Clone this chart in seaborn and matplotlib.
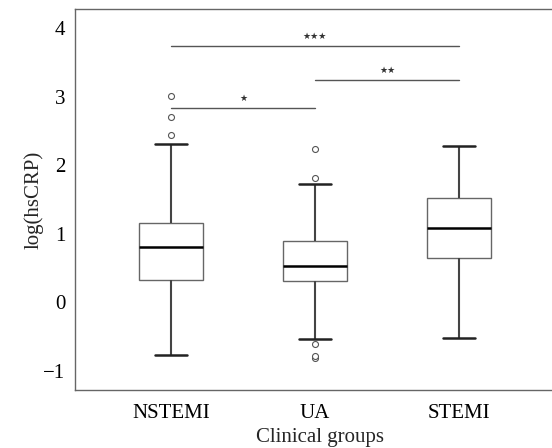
import numpy as np
import pandas as pd
import matplotlib
matplotlib.use("Agg")
import matplotlib.pyplot as plt
import seaborn as sns

groups = ["NSTEMI", "UA", "STEMI"]
nstemi_vals = [-0.77, -0.30, 0.00, 0.15, 0.25, 0.32, 0.45, 0.55, 0.65, 0.72, 0.80,
               0.88, 0.95, 1.02, 1.10, 1.16, 1.60, 2.31, 2.44, 2.70, 3.01]
ua_vals = [-0.81, -0.79, -0.61, -0.53, 0.10, 0.31, 0.38, 0.42, 0.46, 0.50, 0.53,
           0.60, 0.68, 0.76, 0.84, 0.90, 1.20, 1.45, 1.72, 1.82, 2.23]
stemi_vals = [-0.52, -0.20, 0.10, 0.35, 0.50, 0.64, 0.75, 0.85, 0.95, 1.02, 1.09,
              1.18, 1.28, 1.38, 1.46, 1.52, 1.70, 1.85, 2.00, 2.15, 2.285]
yticks = [-1, 0, 1, 2, 3, 4]
ytick_labels = ["\u22121", "0", "1", "2", "3", "4"]

sig_pairs = [(0, 1), (1, 2), (0, 2)]
sig_heights = [2.83, 3.24, 3.74]
sig_labels = ["\u2605", "\u2605\u2605", "\u2605\u2605\u2605"]

df = pd.DataFrame({
    "group": ["NSTEMI"] * len(nstemi_vals) + ["UA"] * len(ua_vals) + ["STEMI"] * len(stemi_vals),
    "value": nstemi_vals + ua_vals + stemi_vals,
})

sns.set_style("white")
plt.rcParams["font.family"] = ["Liberation Serif", "DejaVu Serif"]

fig = plt.figure(figsize=(5.52, 4.48), dpi=100)
ax = fig.add_axes([75 / 552, 1 - 390 / 448, 490 / 552, 381 / 448])

sns.boxplot(
    data=df, x="group", y="value", order=groups, ax=ax,
    width=0.45, color="white", linewidth=1.0, linecolor="#555555",
    boxprops=dict(edgecolor="#666666", linewidth=1.0),
    medianprops=dict(color="black", linewidth=1.8),
    whiskerprops=dict(color="#444444", linewidth=1.5),
    capprops=dict(color="#222222", linewidth=1.8),
    flierprops=dict(marker="o", markersize=4.3, markerfacecolor="white",
                    markeredgecolor="#555555", markeredgewidth=0.8),
)

for (a, b), h, lab in zip(sig_pairs, sig_heights, sig_labels):
    ax.plot([a, b], [h, h], color="#555555", lw=1.0)
    ax.text((a + b) / 2, h + 0.14, lab, ha="center", va="center",
            fontsize=6.5, color="#333333", family=["DejaVu Sans"])

ax.set_xlim(-0.667, -0.667 + 490 / 144)
ax.set_ylim(-1.28, 4.28)
ax.set_yticks(yticks)
ax.set_yticklabels(ytick_labels)
ax.set_xlabel("Clinical groups", fontsize=15, labelpad=4)
ax.set_ylabel("log(hsCRP)", fontsize=15, labelpad=0)
ax.tick_params(axis="both", labelsize=15, length=4, width=1,
               direction="out", colors="#666666", labelcolor="black")
ax.tick_params(axis="x", pad=6)
ax.tick_params(axis="y", pad=3)
for s in ["left", "bottom", "top", "right"]:
    ax.spines[s].set_color("#666666")
    ax.spines[s].set_linewidth(1.0)

fig.savefig("out.png", dpi=100)
